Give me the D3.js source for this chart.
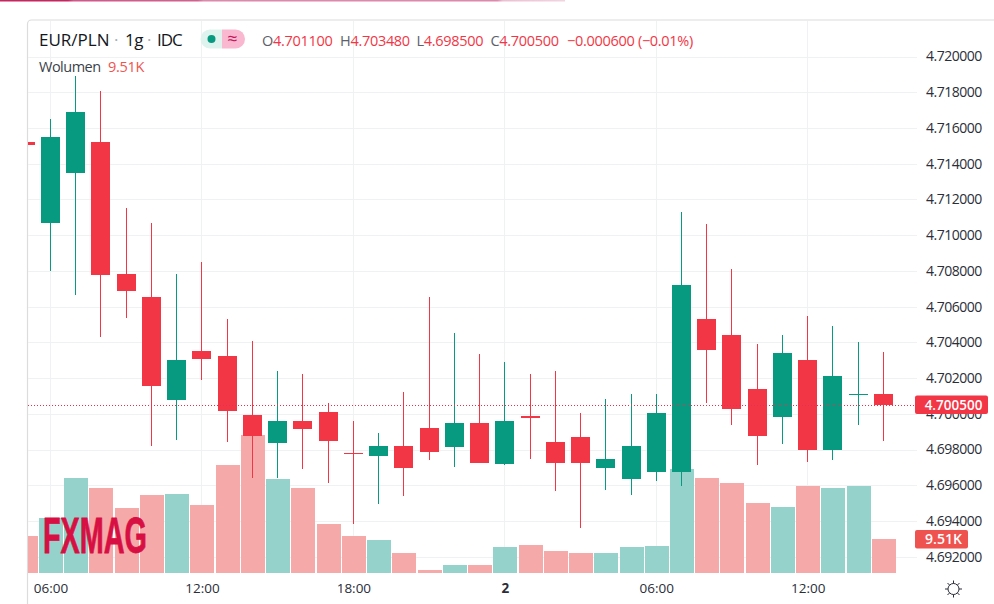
<!DOCTYPE html>
<html>
<head>
<meta charset="utf-8">
<script src="https://cdn.jsdelivr.net/npm/d3@7"></script>
<style>
  html, body { margin: 0; padding: 0; background: #fff; }
  svg { display: block; }
  text { font-family: "Open Sans", sans-serif; }
</style>
</head>
<body>
<svg id="chart"></svg>
<script>
// first entry is the candle cut off by the left edge of the pane
const opens = [4.715238, 4.710717, 4.713518, 4.715238, 4.707843, 4.706555, 4.700801, 4.70353, 4.703249, 4.699944, 4.698392, 4.699608, 4.700112, 4.6978, 4.697664, 4.698207, 4.699216, 4.698168, 4.699496, 4.697216, 4.69988, 4.698432, 4.698712, 4.696992, 4.696375, 4.696768, 4.696768, 4.705322, 4.704426, 4.701401, 4.699849, 4.703025, 4.698, 4.7011, 4.7011];
const highs = [4.715238, 4.716527, 4.718936, 4.718095, 4.711541, 4.7107, 4.707843, 4.708515, 4.705322, 4.70409, 4.702409, 4.702241, 4.700616, 4.699608, 4.698936, 4.701233, 4.706538, 4.704538, 4.703361, 4.702913, 4.702241, 4.702409, 4.700056, 4.70084, 4.701121, 4.701121, 4.711317, 4.710644, 4.708123, 4.703922, 4.704426, 4.70549, 4.70493, 4.704034, 4.70348];
const lows = [4.71507, 4.708011, 4.706628, 4.704275, 4.705339, 4.698224, 4.69856, 4.701866, 4.698448, 4.696432, 4.696432, 4.696936, 4.696152, 4.693855, 4.694975, 4.695423, 4.69744, 4.697048, 4.697272, 4.69716, 4.697496, 4.695703, 4.69363, 4.695759, 4.695479, 4.696264, 4.69595, 4.700616, 4.699345, 4.69716, 4.698336, 4.697328, 4.69744, 4.699345, 4.6985];
const closes = [4.71507, 4.715518, 4.716919, 4.707804, 4.706908, 4.701586, 4.703025, 4.703098, 4.700185, 4.698785, 4.699608, 4.699177, 4.698504, 4.69776, 4.698207, 4.696992, 4.697888, 4.699496, 4.697272, 4.699608, 4.69978, 4.697272, 4.697272, 4.697479, 4.698207, 4.700056, 4.707227, 4.703602, 4.700297, 4.698785, 4.703417, 4.698, 4.702129, 4.70112, 4.7005];
const volumes = [10.44, 15.52, 26.72, 24.1, 18.34, 21.92, 22.2, 19.1, 30.39, 38.85, 26.44, 23.98, 13.74, 10.44, 9.23, 5.56, 0.76, 2.17, 2.17, 7.25, 7.82, 6.12, 5.56, 5.56, 7.25, 7.53, 29.26, 26.72, 25.31, 19.67, 18.54, 24.46, 23.9, 24.46, 9.51];
const priceTicks = [4.72, 4.718, 4.716, 4.714, 4.712, 4.71, 4.708, 4.706, 4.704, 4.702, 4.7, 4.698, 4.696, 4.694, 4.692];
const timeTicks = [1, 7, 13, 19, 25, 31];
const timeLabels = ['06:00', '12:00', '18:00', '2', '06:00', '12:00'];
const lastPrice = 4.7005;
const lastVolume = 9.51;

const width = 994, height = 604;
const pane = { left: 28, right: 917, top: 21, bottom: 573 };
const green = '#089981', red = '#f23645';

const svg = d3.select('#chart').attr('width', width).attr('height', height);

const x = d3.scaleLinear().domain([0, 34]).range([25.26, 883.42]);
const y = d3.scaleLinear().domain([4.692, 4.72]).range([556.7, 56.5]);
const yVol = d3.scaleLinear().domain([0, 40]).range([pane.bottom, pane.bottom - 141.8]);

const isUp = (i) => closes[i] >= opens[i];
const cx = (i) => Math.floor(x(i)) + 0.5;

// loading bar across the top of the page
const grad = svg.append('defs').append('linearGradient').attr('id', 'topbar');
[[0, '#c4265e'], [0.12, '#c4265e'], [0.13, '#d0588a'], [0.35, '#d0628f'], [0.36, '#dc8aab'], [0.88, '#dc8aab'], [0.89, '#ecc0d2'], [1, '#f2d4e0']]
  .forEach((s) => grad.append('stop').attr('offset', s[0]).attr('stop-color', s[1]));
svg.append('rect').attr('x', 0).attr('y', 0).attr('width', 565).attr('height', 1.5).attr('fill', 'url(#topbar)');

svg.append('clipPath').attr('id', 'pane-clip').append('rect')
  .attr('x', pane.left).attr('y', pane.top)
  .attr('width', pane.right - pane.left).attr('height', pane.bottom - pane.top);

// pane border, only top and left
svg.append('path')
  .attr('d', `M${pane.left - 0.5},${height}V24a4,4 0 0 1 4,-4H${width}`)
  .attr('fill', 'none').attr('stroke', '#dcdcdc').attr('stroke-width', 1.2);

const grid = svg.append('g').attr('shape-rendering', 'crispEdges');
grid.selectAll('.h').data(priceTicks).enter().append('line')
  .attr('x1', pane.left).attr('x2', pane.right)
  .attr('y1', (d) => Math.round(y(d)) + 0.5).attr('y2', (d) => Math.round(y(d)) + 0.5)
  .attr('stroke', '#f0f1f3');
grid.selectAll('.v').data(timeTicks).enter().append('line')
  .attr('x1', (d) => cx(d)).attr('x2', (d) => cx(d))
  .attr('y1', pane.top).attr('y2', pane.bottom)
  .attr('stroke', '#f0f1f3');

const plot = svg.append('g').attr('clip-path', 'url(#pane-clip)');

// volume sits under the candles
plot.append('g').attr('shape-rendering', 'crispEdges')
  .selectAll('rect').data(volumes).enter().append('rect')
  .attr('x', (d, i) => cx(i) - 12)
  .attr('width', 24)
  .attr('y', (d) => Math.round(yVol(d)))
  .attr('height', (d) => pane.bottom - Math.round(yVol(d)))
  .attr('fill', (d, i) => (isUp(i) ? '#95d2cb' : '#f6a9a9'));

const candles = plot.append('g').attr('shape-rendering', 'crispEdges')
  .selectAll('g').data(d3.range(opens.length)).enter().append('g');
candles.append('line')
  .attr('x1', cx).attr('x2', cx)
  .attr('y1', (i) => y(highs[i])).attr('y2', (i) => y(lows[i]))
  .attr('stroke', (i) => (isUp(i) ? green : red));
candles.append('rect')
  .attr('x', (i) => cx(i) - 9.5)
  .attr('width', 19)
  .attr('y', (i) => Math.round(y(Math.max(opens[i], closes[i]))))
  .attr('height', (i) => Math.max(1, Math.round(Math.abs(y(opens[i]) - y(closes[i])))))
  .attr('fill', (i) => (isUp(i) ? green : red));

// last price line
svg.append('line')
  .attr('x1', pane.left).attr('x2', pane.right)
  .attr('y1', Math.round(y(lastPrice)) + 0.5).attr('y2', Math.round(y(lastPrice)) + 0.5)
  .attr('stroke', '#e8304e').attr('stroke-dasharray', '1,2')
  .attr('shape-rendering', 'crispEdges');

// axes
const priceAxis = svg.append('g')
  .attr('transform', `translate(${pane.right},0)`)
  .call(d3.axisRight(y).tickValues(priceTicks).tickFormat(d3.format('.6f')).tickSize(0).tickPadding(9));
priceAxis.select('.domain').remove();
priceAxis.selectAll('text')
  .style('font-family', '"Open Sans", sans-serif').style('font-size', '14px').style('letter-spacing', '-0.5px')
  .attr('fill', '#2a2e39');

const timeAxis = svg.append('g')
  .attr('transform', `translate(0,${pane.bottom})`)
  .call(d3.axisBottom(x).tickValues(timeTicks).tickFormat((d, i) => timeLabels[i]).tickSize(0).tickPadding(10));
timeAxis.select('.domain').remove();
timeAxis.selectAll('text')
  .style('font-family', '"Open Sans", sans-serif').style('font-size', '13.5px')
  .style('font-weight', (d, i) => (timeLabels[i] === '2' ? 700 : 400))
  .attr('fill', '#2a2e39');

// price and volume tags on the axis
function axisTag(yPos, w, h, fill, label, size) {
  svg.append('rect').attr('x', 915).attr('y', yPos - h / 2).attr('width', w).attr('height', h).attr('rx', 2).attr('fill', fill);
  svg.append('text').attr('x', 917 + w / 2).attr('y', yPos + 5).attr('text-anchor', 'middle')
    .attr('font-size', size).attr('font-weight', 600).attr('fill', '#fff').text(label);
}
axisTag(y(lastPrice), 73, 18.5, red, d3.format('.6f')(lastPrice), 13.5);
axisTag(yVol(lastVolume), 53, 18.5, '#ef5350', lastVolume + 'K', 14);

// legend
const legendText = (xPos, yPos, size, fill, str, spacing) => svg.append('text')
  .attr('x', xPos).attr('y', yPos).attr('font-size', size).attr('fill', fill)
  .style('letter-spacing', (spacing || 0) + 'px').text(str);
legendText(39, 46, 17, '#131722', 'EUR/PLN');
legendText(114, 46, 17, '#a8abb3', '·');
legendText(125, 46, 17, '#131722', '1g', -0.5);
legendText(147, 46, 17, '#a8abb3', '·');
legendText(157, 46, 17, '#131722', 'IDC', -1);

svg.append('path').attr('d', 'M222,29.5H210a9.5,9.5 0 0 0 0,19H222Z').attr('fill', '#dff3ee');
svg.append('path').attr('d', 'M222,29.5H235.5a9.5,9.5 0 0 1 0,19H222Z').attr('fill', '#f9b8cf');
svg.append('circle').attr('cx', 211.5).attr('cy', 39).attr('r', 4).attr('fill', green);
svg.append('text').attr('x', 232.5).attr('y', 45).attr('text-anchor', 'middle').attr('font-size', 18).attr('fill', '#c2185b').text('≈');

const ohlc = [['O', 262, opens[34]], ['H', 340, highs[34]], ['L', 416.5, lows[34]], ['C', 490.5, closes[34]]];
ohlc.forEach((d) => {
  const t = legendText(d[1], 46, 14.5, '#5d606b', d[0], -0.3);
  t.append('tspan').attr('fill', red).text(d3.format('.6f')(d[2]));
});
legendText(567, 46, 14.5, red, '−0.000600 (−0.01%)', -0.3);

legendText(39, 72, 14.5, '#3b3f4a', 'Wolumen', -0.5);
legendText(108, 72, 14.5, '#ef5350', lastVolume + 'K', -0.3);

// watermark
svg.append('text').attr('x', 43).attr('y', 553).attr('textLength', 104).attr('lengthAdjust', 'spacingAndGlyphs')
  .style('font-family', '"Liberation Sans Narrow", "Liberation Sans", sans-serif')
  .attr('font-size', 50).attr('font-weight', 700).attr('fill', '#d80f42')
  .attr('stroke', '#d80f42').attr('stroke-width', 0.8).text('FXMAG');

// settings gear
const gear = svg.append('g').attr('transform', 'translate(953.5,589)').attr('fill', 'none').attr('stroke', '#2a2e39').attr('stroke-width', 1);
gear.append('circle').attr('r', 5.5);
d3.range(8).forEach((k) => {
  const a = k * Math.PI / 4;
  gear.append('line').attr('x1', 5.5 * Math.cos(a)).attr('y1', 5.5 * Math.sin(a)).attr('x2', 8.5 * Math.cos(a)).attr('y2', 8.5 * Math.sin(a));
});
</script>
</body>
</html>
